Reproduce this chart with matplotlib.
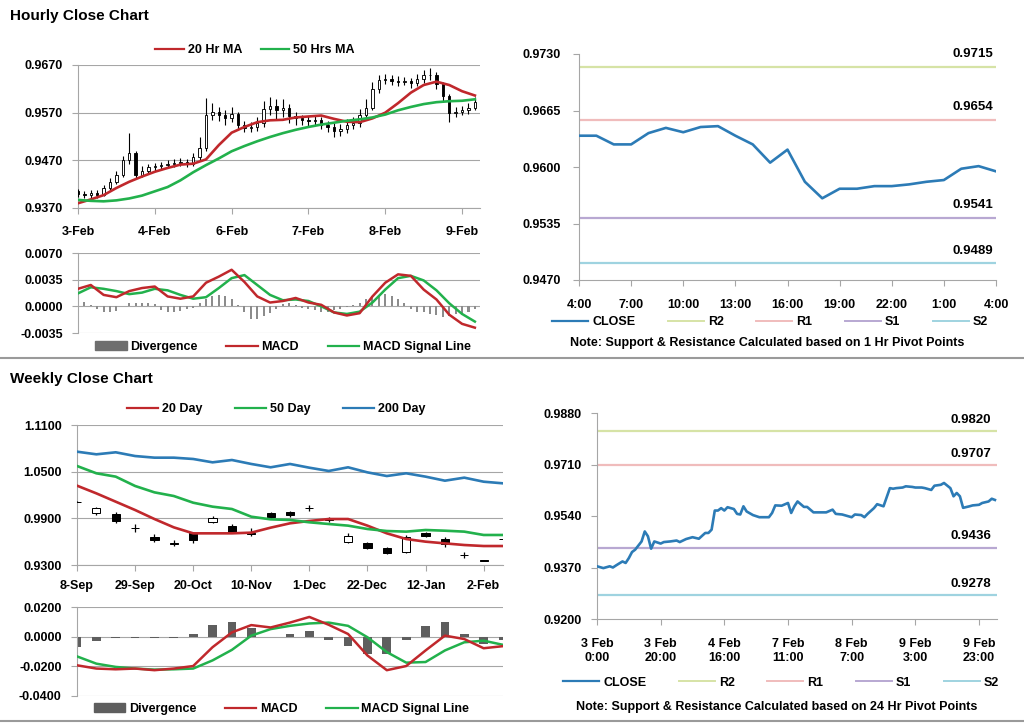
import numpy as np
import matplotlib.pyplot as plt
from matplotlib.lines import Line2D
from matplotlib.patches import Patch

plt.rcParams['font.family'] = ['Liberation Sans', 'DejaVu Sans']
plt.rcParams['font.weight'] = 'bold'
plt.rcParams['font.size'] = 9

RED = '#C0282C'
GREEN = '#22B14C'
BLUE = '#2C7BB6'
GRID = '#A6A6A6'

# ---------------- hourly close chart (2-hour candles) ----------------
hourly_days = ['3-Feb', '4-Feb', '6-Feb', '7-Feb', '8-Feb', '9-Feb']
hourly_day_pos = [0, 12, 24, 36, 48, 60]

h_open = [0.9405, 0.9400, 0.9398, 0.9402, 0.9398, 0.9412, 0.9425, 0.9440, 0.9470, 0.9485,
          0.9440, 0.9448, 0.9455, 0.9458, 0.9460, 0.9462, 0.9465, 0.9466, 0.9462, 0.9478,
          0.9495, 0.9565, 0.9572, 0.9565, 0.9558, 0.9568, 0.9545, 0.9538, 0.9540, 0.9548,
          0.9578, 0.9585, 0.9575, 0.9580, 0.9562, 0.9558, 0.9555, 0.9552, 0.9555, 0.9545,
          0.9540, 0.9532, 0.9535, 0.9545, 0.9548, 0.9565, 0.9580, 0.9620, 0.9638, 0.9640,
          0.9637, 0.9635, 0.9636, 0.9632, 0.9640, 0.9648, 0.9650, 0.9630, 0.9605, 0.9570,
          0.9572, 0.9575, 0.9580]
h_close = [0.9400, 0.9398, 0.9402, 0.9398, 0.9412, 0.9425, 0.9440, 0.9470, 0.9485, 0.9440,
           0.9448, 0.9455, 0.9458, 0.9460, 0.9462, 0.9465, 0.9466, 0.9462, 0.9478, 0.9495,
           0.9565, 0.9572, 0.9565, 0.9558, 0.9568, 0.9545, 0.9538, 0.9540, 0.9548, 0.9578,
           0.9585, 0.9575, 0.9580, 0.9562, 0.9558, 0.9555, 0.9552, 0.9555, 0.9545, 0.9540,
           0.9532, 0.9535, 0.9545, 0.9548, 0.9565, 0.9580, 0.9620, 0.9638, 0.9640, 0.9637,
           0.9635, 0.9636, 0.9632, 0.9640, 0.9648, 0.9650, 0.9630, 0.9605, 0.9570, 0.9572,
           0.9575, 0.9580, 0.9592]
h_high = [0.9410, 0.9406, 0.9408, 0.9407, 0.9418, 0.9432, 0.9448, 0.9480, 0.9527, 0.9490,
          0.9458, 0.9462, 0.9464, 0.9466, 0.9470, 0.9472, 0.9474, 0.9472, 0.9486, 0.9520,
          0.9600, 0.9590, 0.9582, 0.9575, 0.9582, 0.9572, 0.9552, 0.9550, 0.9560, 0.9595,
          0.9602, 0.9598, 0.9598, 0.9588, 0.9572, 0.9566, 0.9564, 0.9566, 0.9560, 0.9552,
          0.9548, 0.9546, 0.9556, 0.9560, 0.9578, 0.9598, 0.9635, 0.9650, 0.9652, 0.9648,
          0.9646, 0.9645, 0.9642, 0.9652, 0.9660, 0.9664, 0.9655, 0.9635, 0.9610, 0.9582,
          0.9585, 0.9590, 0.9602]
h_low = [0.9394, 0.9392, 0.9392, 0.9390, 0.9395, 0.9408, 0.9420, 0.9436, 0.9462, 0.9432,
         0.9434, 0.9442, 0.9448, 0.9452, 0.9455, 0.9456, 0.9458, 0.9455, 0.9458, 0.9470,
         0.9490, 0.9555, 0.9552, 0.9545, 0.9550, 0.9535, 0.9530, 0.9530, 0.9532, 0.9540,
         0.9565, 0.9555, 0.9560, 0.9548, 0.9545, 0.9545, 0.9542, 0.9544, 0.9536, 0.9530,
         0.9518, 0.9522, 0.9528, 0.9536, 0.9540, 0.9558, 0.9575, 0.9612, 0.9630, 0.9628,
         0.9626, 0.9627, 0.9622, 0.9625, 0.9632, 0.9638, 0.9620, 0.9592, 0.9550, 0.9560,
         0.9565, 0.9568, 0.9575]

# moving averages, read every second candle
ma20_h = [0.9380, 0.9388, 0.9397, 0.9412, 0.9425, 0.9436, 0.9446, 0.9454, 0.9461, 0.9463,
          0.9472, 0.9502, 0.9528, 0.9540, 0.9550, 0.9554, 0.9555, 0.9560, 0.9562, 0.9564,
          0.9557, 0.9551, 0.9550, 0.9558, 0.9570, 0.9590, 0.9612, 0.9628, 0.9635, 0.9628,
          0.9615, 0.9606]
ma50_h = [0.9387, 0.9385, 0.9384, 0.9386, 0.9390, 0.9396, 0.9405, 0.9414, 0.9428, 0.9445,
          0.9460, 0.9474, 0.9489, 0.9500, 0.9510, 0.9519, 0.9527, 0.9534, 0.9540, 0.9545,
          0.9549, 0.9553, 0.9556, 0.9560, 0.9566, 0.9575, 0.9582, 0.9588, 0.9592, 0.9594,
          0.9595, 0.9598]

macd_h = [0.0023, 0.0028, 0.0015, 0.0012, 0.0020, 0.0024, 0.0026, 0.0013, 0.0010, 0.0013,
          0.0031, 0.0039, 0.0048, 0.0032, 0.0013, 0.0005, 0.0007, 0.0011, 0.0005, 0.0002,
          -0.0008, -0.0012, -0.0009, 0.0013, 0.0031, 0.0042, 0.0040, 0.0022, 0.0009, -0.0011,
          -0.0023, -0.0028]
signal_h = [0.0017, 0.0025, 0.0023, 0.0020, 0.0016, 0.0018, 0.0023, 0.0021, 0.0015, 0.0010,
            0.0012, 0.0024, 0.0037, 0.0041, 0.0028, 0.0015, 0.0008, 0.0009, 0.0007, 0.0000,
            -0.0008, -0.0010, -0.0007, 0.0005, 0.0022, 0.0037, 0.0040, 0.0034, 0.0021, 0.0004,
            -0.0010, -0.0020]
div_h = [0.0007, 0.0006, 0.0002, -0.0004, -0.0007, -0.0008, -0.0006, 0.0001, 0.0004, 0.0004,
         0.0005, 0.0005, 0.0003, -0.0005, -0.0008, -0.0007, -0.0006, -0.0004, -0.0002, 0.0004,
         0.0010, 0.0014, 0.0015, 0.0013, 0.0009, 0.0002, -0.0008, -0.0016, -0.0017, -0.0013,
         -0.0009, -0.0003, 0.0003, 0.0004, 0.0002, -0.0002, -0.0004, -0.0005, -0.0007, -0.0008,
         -0.0005, -0.0003, -0.0001, 0.0002, 0.0005, 0.0009, 0.0013, 0.0015, 0.0016, 0.0013,
         0.0009, 0.0004, -0.0003, -0.0007, -0.0008, -0.0010, -0.0012, -0.0014, -0.0013, -0.0010,
         -0.0011, -0.0008, -0.0004]

# ---------------- 1 hr pivot chart ----------------
pivot1_hours = list(range(25))
pivot1_close = [0.9636, 0.9636, 0.9626, 0.9626, 0.9639, 0.9645, 0.9640, 0.9646, 0.9647, 0.9636,
                0.9626, 0.9605, 0.9620, 0.9583, 0.9564, 0.9575, 0.9575, 0.9578, 0.9578, 0.9580,
                0.9583, 0.9585, 0.9598, 0.9601, 0.9595]
pivot1_labels = ['4:00', '7:00', '10:00', '13:00', '16:00', '19:00', '22:00', '1:00', '4:00']
level_names = ['R2', 'R1', 'S1', 'S2']
level_colors = ['#D6E3A6', '#F0BCBC', '#B8A8D2', '#9FD3E0']
levels_1h = [0.9715, 0.9654, 0.9541, 0.9489]

# ---------------- weekly close chart ----------------
week_labels = ['8-Sep', '29-Sep', '20-Oct', '10-Nov', '1-Dec', '22-Dec', '12-Jan', '2-Feb']
w_open = [1.0116, 0.9964, 0.9956, 0.9782, 0.9664, 0.9580, 0.9707, 0.9849, 0.9801, 0.9709, 0.9964, 0.9977,
          1.0039, 0.9889, 0.9600, 0.9578, 0.9514, 0.9471, 0.9707, 0.9634, 0.9431, 0.9358, 0.9636]
w_close = [1.0112, 1.0029, 0.9870, 0.9778, 0.9621, 0.9576, 0.9621, 0.9909, 0.9729, 0.9705, 0.9913, 0.9943,
           1.0035, 0.9885, 0.9677, 0.9514, 0.9458, 0.9664, 0.9673, 0.9570, 0.9427, 0.9354, 0.9632]
w_high = [1.0118, 1.0050, 0.9986, 0.9823, 0.9694, 0.9621, 0.9729, 0.9934, 0.9827, 0.9771, 0.9986, 0.9999,
          1.0071, 0.9913, 0.9707, 0.9591, 0.9527, 0.9686, 0.9729, 0.9656, 0.9463, 0.9360, 0.9638]
w_low = [1.0110, 0.9943, 0.9836, 0.9729, 0.9600, 0.9544, 0.9578, 0.9836, 0.9707, 0.9673, 0.9887, 0.9921,
         0.9999, 0.9857, 0.9578, 0.9501, 0.9441, 0.9458, 0.9656, 0.9536, 0.9394, 0.9352, 0.9630]
ma20_w = [1.0320, 1.0221, 1.0114, 1.0007, 0.9891, 0.9784, 0.9707, 0.9707, 0.9707, 0.9716, 0.9780, 0.9836,
          0.9866, 0.9891, 0.9891, 0.9806, 0.9707, 0.9634, 0.9600, 0.9578, 0.9557, 0.9544, 0.9544]
ma50_w = [1.0573, 1.0479, 1.0436, 1.0316, 1.0234, 1.0187, 1.0101, 1.0050, 1.0020, 0.9921, 0.9887, 0.9879,
          0.9849, 0.9827, 0.9806, 0.9763, 0.9737, 0.9729, 0.9750, 0.9741, 0.9729, 0.9686, 0.9686]
ma200_w = [1.0757, 1.0723, 1.0749, 1.0701, 1.0680, 1.0680, 1.0663, 1.0620, 1.0650, 1.0599, 1.0556, 1.0599,
           1.0551, 1.0509, 1.0556, 1.0491, 1.0444, 1.0479, 1.0436, 1.0384, 1.0423, 1.0371, 1.0350]

div_w = [-0.0067, -0.0030, -0.0010, -0.0010, -0.0010, -0.0010, 0.0020, 0.0080, 0.0100, 0.0060, -0.0005, 0.0020,
         0.0035, -0.0020, -0.0060, -0.0115, -0.0115, -0.0020, 0.0075, 0.0100, 0.0020, -0.0050, -0.0020]
macd_w = [-0.0193, -0.0215, -0.0220, -0.0215, -0.0226, -0.0215, -0.0198, -0.0071, 0.0029, 0.0078, 0.0062, 0.0095,
          0.0133, 0.0080, 0.0018, -0.0127, -0.0226, -0.0198, -0.0093, 0.0007, -0.0016, -0.0078, -0.0064]
signal_w = [-0.0133, -0.0182, -0.0204, -0.0215, -0.0222, -0.0220, -0.0215, -0.0160, -0.0089, 0.0007, 0.0051, 0.0073,
            0.0089, 0.0095, 0.0073, -0.0004, -0.0104, -0.0175, -0.0171, -0.0093, -0.0038, -0.0027, -0.0055]

# ---------------- 24 hr pivot chart ----------------
pivot24_hours = [0, 2, 4, 5, 6, 8, 9, 10, 11, 12, 14, 15, 16, 17, 18, 20, 21, 23, 25, 26, 28, 30, 32, 34,
                 35, 36, 37, 38, 39, 40, 41, 43, 44, 45, 46, 47, 49, 51, 52, 54, 55, 56, 58, 60, 61, 62,
                 63, 65, 66, 68, 70, 72, 74, 75, 77, 79, 80, 81, 83, 84, 85, 87, 88, 90, 92, 93, 94, 96,
                 97, 99, 100, 102, 103, 105, 106, 108, 109, 111, 112, 113, 114, 115, 117, 118, 120, 121,
                 123, 124, 125]
pivot24_close = [0.9374, 0.9368, 0.9374, 0.9370, 0.9377, 0.9390, 0.9385, 0.9401, 0.9421, 0.9429, 0.9456,
                 0.9489, 0.9473, 0.9432, 0.9456, 0.9449, 0.9454, 0.9456, 0.9459, 0.9454, 0.9464, 0.9470,
                 0.9465, 0.9484, 0.9484, 0.9495, 0.9558, 0.9558, 0.9566, 0.9558, 0.9569, 0.9563, 0.9547,
                 0.9545, 0.9572, 0.9555, 0.9543, 0.9536, 0.9536, 0.9536, 0.9550, 0.9575, 0.9574, 0.9583,
                 0.9550, 0.9572, 0.9588, 0.9570, 0.9570, 0.9552, 0.9552, 0.9552, 0.9561, 0.9547, 0.9545,
                 0.9539, 0.9536, 0.9545, 0.9543, 0.9536, 0.9547, 0.9566, 0.9579, 0.9572, 0.9632, 0.9630,
                 0.9632, 0.9634, 0.9638, 0.9636, 0.9634, 0.9634, 0.9632, 0.9626, 0.9640, 0.9643, 0.9649,
                 0.9632, 0.9605, 0.9616, 0.9605, 0.9567, 0.9572, 0.9575, 0.9577, 0.9583, 0.9588, 0.9597,
                 0.9593]
pivot24_labels = ['3 Feb\n0:00', '3 Feb\n20:00', '4 Feb\n16:00', '7 Feb\n11:00', '8 Feb\n7:00',
                  '9 Feb\n3:00', '9 Feb\n23:00']
levels_24h = [0.9820, 0.9707, 0.9436, 0.9278]


def style(ax, grid=True):
    for s in ['top', 'right']:
        ax.spines[s].set_visible(False)
    for s in ['left', 'bottom']:
        ax.spines[s].set_color(GRID)
    ax.tick_params(colors=GRID, labelcolor='black', length=4, width=0.8, labelsize=9)
    if grid:
        ax.yaxis.grid(True, color=GRID, lw=0.8)
    ax.set_axisbelow(True)


def candles(ax, x, o, h, l, c, width, lw, min_h):
    o, h, l, c = map(np.asarray, (o, h, l, c))
    up = c >= o
    ax.vlines(x, l, h, color='black', lw=lw, zorder=3)
    ax.bar(x, np.maximum(np.abs(c - o), min_h), width, np.minimum(o, c),
           color=np.where(up, 'white', 'black'), edgecolor='black', linewidth=lw * 0.8, zorder=4)


def legend(ax, handles, labels, anchor, cs, hl=2.5):
    ax.legend(handles, labels, loc='center', bbox_to_anchor=anchor, ncol=len(labels), frameon=False,
              columnspacing=cs, handlelength=hl, handletextpad=0.3, borderpad=0, borderaxespad=0,
              prop={'size': 9, 'weight': 'bold'})


def fmt4(ax):
    ax.set_yticklabels(['%.4f' % v for v in ax.get_yticks()])


fig = plt.figure(figsize=(10.24, 7.24), dpi=100)
W, H = 1024.0, 724.0


def add_ax(l, t, r, b):
    return fig.add_axes([l / W, 1 - b / H, (r - l) / W, (b - t) / H])


fig.text(10 / W, 1 - 16 / H, 'Hourly Close Chart', fontsize=11, fontweight='bold', va='center')
fig.text(10 / W, 1 - 379 / H, 'Weekly Close Chart', fontsize=11, fontweight='bold', va='center')
fig.add_artist(Line2D([0, 1], [1 - 358 / H] * 2, color='#9A9A9A', lw=1.5))
fig.add_artist(Line2D([0, 1], [1 - 721 / H] * 2, color='#9A9A9A', lw=1.5))

# panel 1: hourly candles
ax1 = add_ax(78, 65, 480, 208)
style(ax1)
xi = np.arange(len(h_close))
xm = np.arange(0, len(h_close), 2)
candles(ax1, xi, h_open, h_high, h_low, h_close, 0.38, 0.8, 0.00008)
ax1.plot(xm, ma20_h, color=RED, lw=1.9, zorder=5)
ax1.plot(xm, ma50_h, color=GREEN, lw=1.9, zorder=5)
ax1.set_xlim(0, 62.8)
ax1.set_ylim(0.937, 0.967)
ax1.set_yticks([0.937, 0.947, 0.957, 0.967])
fmt4(ax1)
ax1.set_xticks(hourly_day_pos)
ax1.set_xticklabels(hourly_days)
ax1.tick_params(axis='y', pad=7)
ax1.tick_params(axis='x', pad=9)
legend(ax1, [Line2D([], [], color=RED, lw=1.6), Line2D([], [], color=GREEN, lw=1.6)],
       ['20 Hr MA', '50 Hrs MA'], (0.44, 1.105), 1.5, 2.3)

# panel 2: hourly MACD
ax2 = add_ax(78, 253, 480, 333)
style(ax2)
ax2.bar(xi, div_h, 0.32, color='#8C8C8C', zorder=2)
ax2.plot(xm, macd_h, color=RED, lw=1.8, zorder=4)
ax2.plot(xm, signal_h, color=GREEN, lw=1.8, zorder=3)
ax2.set_xlim(0, 62.8)
ax2.set_ylim(-0.0035, 0.007)
ax2.set_yticks([-0.0035, 0.0, 0.0035, 0.007])
fmt4(ax2)
ax2.set_xticks([])
ax2.spines['bottom'].set_visible(False)
ax2.tick_params(axis='y', pad=7)
legend(ax2, [Patch(color='#6E6E6E'), Line2D([], [], color=RED, lw=1.6), Line2D([], [], color=GREEN, lw=1.6)],
       ['Divergence', 'MACD', 'MACD Signal Line'], (0.51, -0.175), 2.3)

# panel 3: 1 hr pivot
ax3 = add_ax(579, 54, 996, 280)
style(ax3, grid=False)
for name, lvl, col in zip(level_names, levels_1h, level_colors):
    ax3.axhline(lvl, color=col, lw=1.6, zorder=2)
    ax3.annotate('%.4f' % lvl, (24, lvl), xytext=(-2, 5), textcoords='offset points',
                 ha='right', va='bottom', fontsize=9.5, fontweight='bold')
ax3.plot(pivot1_hours, pivot1_close, color=BLUE, lw=1.9, zorder=3)
ax3.set_xlim(0, 24)
ax3.set_ylim(0.947, 0.973)
ax3.set_yticks([0.947, 0.9535, 0.96, 0.9665, 0.973])
fmt4(ax3)
ax3.set_xticks(range(0, 25, 3))
ax3.set_xticklabels(pivot1_labels)
ax3.tick_params(axis='y', pad=9)
ax3.tick_params(axis='x', pad=10)
legend(ax3, [Line2D([], [], color=BLUE, lw=1.6)] + [Line2D([], [], color=c, lw=1.4) for c in level_colors],
       ['CLOSE'] + level_names, (0.458, -0.186), 2.6, 2.9)
fig.text(767 / W, 1 - 343 / H, 'Note: Support & Resistance Calculated based on 1 Hr Pivot Points',
         ha='center', va='center', fontsize=9, fontweight='bold')

# panel 4: weekly candles
ax4 = add_ax(77, 425, 503, 565)
style(ax4)
xw = np.arange(len(w_close))
candles(ax4, xw, w_open, w_high, w_low, w_close, 0.42, 0.9, 0.0004)
ax4.plot(xw, ma20_w, color=RED, lw=1.9, zorder=5)
ax4.plot(xw, ma50_w, color=GREEN, lw=1.9, zorder=5)
ax4.plot(xw, ma200_w, color=BLUE, lw=1.9, zorder=5)
ax4.set_xlim(0, 22)
ax4.set_ylim(0.93, 1.11)
ax4.set_yticks([0.93, 0.99, 1.05, 1.11])
fmt4(ax4)
ax4.set_xticks(range(0, 22, 3))
ax4.set_xticklabels(week_labels)
ax4.tick_params(axis='y', pad=7)
ax4.tick_params(axis='x', pad=7)
legend(ax4, [Line2D([], [], color=c, lw=1.6) for c in (RED, GREEN, BLUE)],
       ['20 Day', '50 Day', '200 Day'], (0.468, 1.114), 2.6)

# panel 5: weekly MACD
ax5 = add_ax(77, 607, 503, 696)
style(ax5)
ax5.bar(xw, div_w, 0.45, color='#5E5E5E', zorder=2)
ax5.plot(xw, macd_w, color=RED, lw=1.8, zorder=4)
ax5.plot(xw, signal_w, color=GREEN, lw=1.8, zorder=3)
ax5.set_xlim(0, 22)
ax5.set_ylim(-0.04, 0.02)
ax5.set_yticks([-0.04, -0.02, 0.0, 0.02])
fmt4(ax5)
ax5.set_xticks([])
ax5.spines['bottom'].set_visible(False)
ax5.tick_params(axis='y', pad=7)
legend(ax5, [Patch(color='#5E5E5E'), Line2D([], [], color=RED, lw=1.6), Line2D([], [], color=GREEN, lw=1.6)],
       ['Divergence', 'MACD', 'MACD Signal Line'], (0.48, -0.146), 2.3)

# panel 6: 24 hr pivot
ax6 = add_ax(597, 413, 997, 619)
style(ax6, grid=False)
for name, lvl, col in zip(level_names, levels_24h, level_colors):
    ax6.axhline(lvl, color=col, lw=1.6, zorder=2)
    ax6.annotate('%.4f' % lvl, (125.65, lvl), xytext=(-4, 4), textcoords='offset points',
                 ha='right', va='bottom', fontsize=9.5, fontweight='bold')
ax6.plot(pivot24_hours, pivot24_close, color=BLUE, lw=1.9, zorder=3)
ax6.set_xlim(0, 125.65)
ax6.set_ylim(0.92, 0.988)
ax6.set_yticks([0.92, 0.937, 0.954, 0.971, 0.988])
fmt4(ax6)
ax6.set_xticks(range(0, 121, 20))
ax6.set_xticklabels(pivot24_labels)
ax6.tick_params(axis='y', pad=7)
ax6.tick_params(axis='x', pad=10)
legend(ax6, [Line2D([], [], color=BLUE, lw=1.6)] + [Line2D([], [], color=c, lw=1.4) for c in level_colors],
       ['CLOSE'] + level_names, (0.46, -0.31), 2.6, 2.9)
fig.text(777 / W, 1 - 707 / H, 'Note: Support & Resistance Calculated based on 24 Hr Pivot Points',
         ha='center', va='center', fontsize=9, fontweight='bold')

fig.savefig('out.png', dpi=100)
